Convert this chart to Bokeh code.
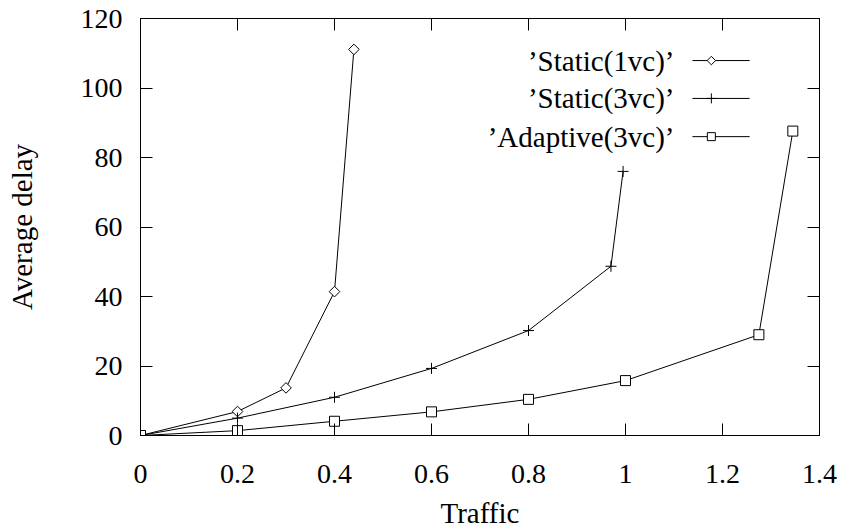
from bokeh.plotting import figure
from bokeh.models import Range1d, FixedTicker, LinearAxis, Label
from bokeh.embed import file_html
from bokeh.resources import INLINE
import math

# ---- data ----
x_static1 = [0.0, 0.2, 0.3, 0.4, 0.44]
y_static1 = [0.0, 6.9, 13.7, 41.4, 111.1]

x_static3 = [0.0, 0.2, 0.4, 0.6, 0.8, 0.97, 0.995]
y_static3 = [0.0, 5.0, 11.0, 19.3, 30.2, 48.7, 76.0]

x_adaptive = [0.0, 0.2, 0.4, 0.6, 0.8, 1.0, 1.275, 1.345]
y_adaptive = [0.0, 1.4, 4.1, 6.8, 10.4, 15.8, 29.0, 87.6]

series_names = ["\u2019Static(1vc)\u2019", "\u2019Static(3vc)\u2019", "\u2019Adaptive(3vc)\u2019"]

x_ticks = [0, 0.2, 0.4, 0.6, 0.8, 1.0, 1.2, 1.4]
x_tick_labels = ["0", "0.2", "0.4", "0.6", "0.8", "1", "1.2", "1.4"]
y_ticks = [0, 20, 40, 60, 80, 100, 120]
y_tick_labels = ["0", "20", "40", "60", "80", "100", "120"]

x_title = "Traffic"
y_title = "Average delay"

FONT = "Liberation Serif"
FS_TICK = "28px"
FS_TEXT = "29px"

p = figure(width=843, height=531, output_backend="svg", toolbar_location=None,
           x_range=Range1d(0, 1.4), y_range=Range1d(0, 120),
           x_axis_type=None, y_axis_type=None,
           min_border_left=140, min_border_right=24,
           min_border_top=18, min_border_bottom=96)
p.grid.visible = False
p.outline_line_color = "black"
p.outline_line_width = 1
p.background_fill_color = "white"
p.border_fill_color = "white"


def make_axis(ticks, labels, show_labels, title=None):
    ax = LinearAxis(ticker=FixedTicker(ticks=ticks))
    if show_labels:
        ax.major_label_overrides = {t: l for t, l in zip(ticks, labels)}
        ax.major_label_text_font_size = FS_TICK
    else:
        ax.major_label_overrides = {t: "" for t in ticks}
        ax.major_label_standoff = 0
    ax.major_tick_in = 12
    ax.major_tick_out = 0
    ax.minor_tick_in = 0
    ax.minor_tick_out = 0
    ax.axis_line_color = "black"
    ax.major_tick_line_color = "black"
    ax.major_label_text_font = FONT
    ax.major_label_text_color = "black"
    if title:
        ax.axis_label = title
        ax.axis_label_text_font = FONT
        ax.axis_label_text_font_size = FS_TEXT
        ax.axis_label_text_font_style = "normal"
        ax.axis_label_text_color = "black"
    return ax


xb = make_axis(x_ticks, x_tick_labels, True, x_title)
xb.major_label_standoff = 29
xb.axis_label_standoff = 11
p.add_layout(xb, "below")

yl = make_axis(y_ticks, y_tick_labels, True, y_title)
yl.major_label_standoff = 18
yl.axis_label_standoff = 40
p.add_layout(yl, "left")

p.add_layout(make_axis(x_ticks, x_tick_labels, False), "above")
p.add_layout(make_axis(y_ticks, y_tick_labels, False), "right")

# ---- series ----
p.line(x_static1, y_static1, line_color="black", line_width=1)
p.scatter(x_static1, y_static1, marker="square", angle=math.pi / 4, size=7.5,
          fill_color="white", line_color="black", line_width=1)

p.line(x_static3, y_static3, line_color="black", line_width=1)
p.scatter(x_static3, y_static3, marker="cross", size=11,
          line_color="black", line_width=1)

p.line(x_adaptive, y_adaptive, line_color="black", line_width=1)
p.scatter(x_adaptive, y_adaptive, marker="square", size=10,
          fill_color="white", line_color="black", line_width=1)

# ---- legend (gnuplot style: text left, sample right) ----
legend_text_x = 1.101
legend_rows_y = [107.9, 97.0, 86.0]
legend_line_x0 = 1.138
legend_line_x1 = 1.256
legend_marker_x = 1.177
legend_markers = [("square", math.pi / 4, 6), ("cross", 0, 10), ("square", 0, 8)]

for name, ry, (mk, ang, sz) in zip(series_names, legend_rows_y, legend_markers):
    p.add_layout(Label(x=legend_text_x, y=ry, text=name, text_align="right",
                       text_baseline="middle", text_font=FONT,
                       text_font_size=FS_TEXT, text_color="black"))
    p.segment(x0=[legend_line_x0], y0=[ry], x1=[legend_line_x1], y1=[ry],
              line_color="black", line_width=1)
    p.scatter([legend_marker_x], [ry], marker=mk, angle=ang, size=sz,
              fill_color="white", line_color="black", line_width=1)

open("out.html", "w").write(file_html(p, INLINE))
